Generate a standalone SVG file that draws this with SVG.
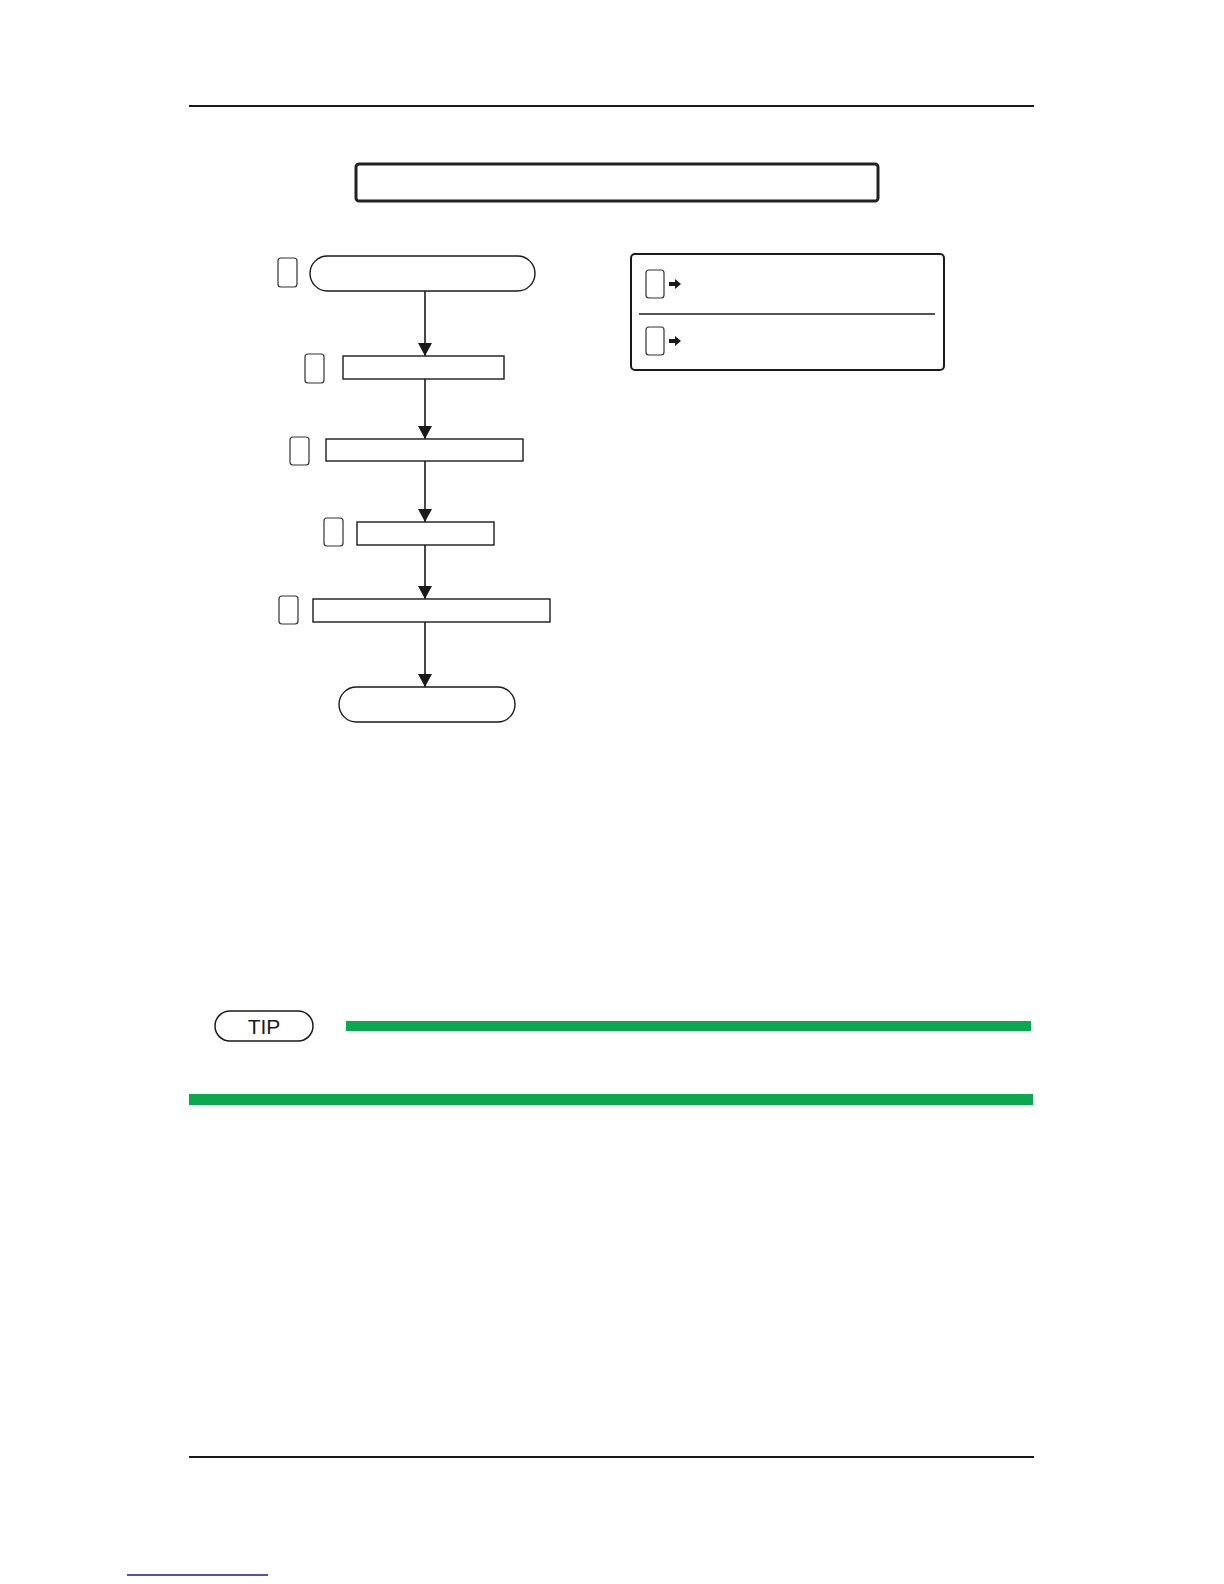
<svg xmlns="http://www.w3.org/2000/svg" width="1224" height="1584" viewBox="0 0 1224 1584">
<defs>
<style>
.ln{stroke:#1a1a1a;stroke-width:1.6;fill:none}
.bx{fill:#fff;stroke:#1a1a1a;stroke-width:1.4}
.sb{fill:#fff;stroke:#333;stroke-width:1.2}
.green{fill:#0aa84f}
</style>
<marker id="ah" viewBox="0 0 13 14" refX="13" refY="7" markerWidth="13" markerHeight="14" markerUnits="userSpaceOnUse" orient="auto">
<path d="M0,0 L13,7 L0,14 Z" fill="#1a1a1a"/>
</marker>
</defs>
<rect width="1224" height="1584" fill="#fff"/>
<line x1="189" y1="106" x2="1034" y2="106" stroke="#1a1a1a" stroke-width="2"/>
<line x1="189" y1="1457" x2="1034" y2="1457" stroke="#1a1a1a" stroke-width="2"/>
<line x1="127" y1="1575" x2="268" y2="1575" stroke="#1a1a9a" stroke-width="1.5"/>
<g id="title"><rect x="356" y="164" width="522" height="37" rx="3" fill="#fff" stroke="#222" stroke-width="3"/></g>
<g id="connectors">
<path class="ln" d="M425,291 V356" marker-end="url(#ah)"/>
<path class="ln" d="M425,379 V439" marker-end="url(#ah)"/>
<path class="ln" d="M425,461 V522" marker-end="url(#ah)"/>
<path class="ln" d="M425,545 V599" marker-end="url(#ah)"/>
<path class="ln" d="M425,622 V687" marker-end="url(#ah)"/>
</g>
<g id="start"><rect class="bx" x="310" y="256" width="225" height="35" rx="17.5"/><rect class="sb" x="278" y="258" width="19" height="29" rx="3"/></g>
<g id="step2"><rect class="bx" x="343" y="356" width="161" height="23"/><rect class="sb" x="305" y="354" width="19" height="29" rx="3"/></g>
<g id="step3"><rect class="bx" x="326" y="439" width="197" height="22"/><rect class="sb" x="290" y="437" width="19" height="28" rx="3"/></g>
<g id="step4"><rect class="bx" x="357" y="522" width="137" height="23"/><rect class="sb" x="324" y="518" width="19" height="28" rx="3"/></g>
<g id="step5"><rect class="bx" x="313" y="599" width="237" height="23"/><rect class="sb" x="279" y="596" width="19" height="28" rx="3"/></g>
<g id="end"><rect class="bx" x="339" y="687" width="176" height="35" rx="17.5"/></g>
<g id="legend">
<rect x="631" y="254" width="313" height="116" rx="4" fill="#fff" stroke="#1a1a1a" stroke-width="2"/>
<line x1="639" y1="314" x2="935" y2="314" stroke="#1a1a1a" stroke-width="1.6"/>
<rect class="sb" x="646" y="270" width="18" height="28" rx="3"/>
<rect class="sb" x="646" y="327" width="18" height="28" rx="3"/>
<path d="M669,282 H675 V279 L681,284 L675,289 V286 H669 Z" fill="#1a1a1a"/>
<path d="M669,339 H675 V336 L681,341 L675,346 V343 H669 Z" fill="#1a1a1a"/>
</g>
<g id="tip">
<rect x="215" y="1011" width="98" height="30" rx="15" fill="#fff" stroke="#1a1a1a" stroke-width="1.5"/>
<text x="264" y="1034" text-anchor="middle" font-family="Liberation Sans, Arial, sans-serif" font-size="21" fill="#1a1a1a">TIP</text>
<rect class="green" x="346" y="1021" width="685" height="10"/>
</g>
<rect class="green" x="189" y="1094" width="844" height="11"/>
</svg>
